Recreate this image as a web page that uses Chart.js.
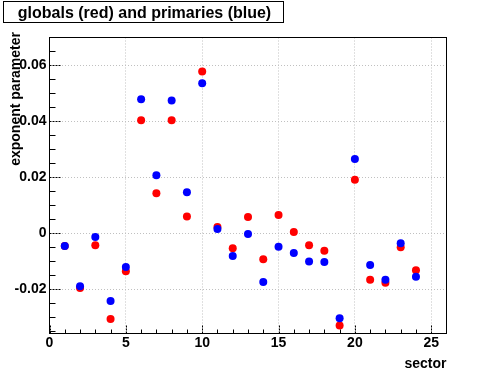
<!DOCTYPE html>
<html>
<head>
<meta charset="utf-8">
<script src="https://cdn.jsdelivr.net/npm/chart.js@4/dist/chart.umd.min.js"></script>
<style>
  body { margin: 0; background: #fff; }
  canvas { display: block; }
</style>
</head>
<body>
<canvas id="c" width="496" height="372"></canvas>
<script>
// values
const sectors = [1, 2, 3, 4, 5, 6, 7, 8, 9, 10, 11, 12, 13, 14, 15, 16, 17, 18, 19, 20, 21, 22, 23, 24];
const globals = [-0.0046, -0.0196, -0.0043, -0.0307, -0.0136, 0.0404, 0.0143, 0.0404, 0.0060, 0.0578,
  0.0022, -0.0054, 0.0058, -0.0093, 0.0065, 0.0004, -0.0043, -0.0063, -0.0330, 0.0191,
  -0.0167, -0.0177, -0.0050, -0.0133];
const primaries = [-0.0046, -0.0190, -0.0014, -0.0243, -0.0121, 0.0479, 0.0207, 0.0475, 0.0146, 0.0536,
  0.0015, -0.0082, -0.0003, -0.0175, -0.0049, -0.0071, -0.0101, -0.0103, -0.0304, 0.0265,
  -0.0114, -0.0167, -0.0036, -0.0156];
const xTicks = [0, 5, 10, 15, 20, 25];
const yTicks = [-0.02, 0, 0.02, 0.04, 0.06];

const FONT = "'Liberation Sans', Arial, sans-serif";

function points(ys) {
  return sectors.map((x, i) => ({ x: x, y: ys[i] }));
}

// ROOT-like frame, inward tick marks, title box and axis titles
const rootDecor = {
  id: "rootDecor",
  afterDraw(chart) {
    const ctx = chart.ctx;
    const a = chart.chartArea;
    const xs = chart.scales.x;
    const ys = chart.scales.y;
    ctx.save();
    ctx.strokeStyle = "#000";
    ctx.lineWidth = 1;

    // minor ticks
    ctx.beginPath();
    for (let i = 1; i <= 25; i++) {
      if (i % 5 === 0) continue;
      const px = Math.round(xs.getPixelForValue(i)) + 0.5;
      ctx.moveTo(px, a.bottom);
      ctx.lineTo(px, a.bottom - 4);
    }
    for (let k = -7; k <= 13; k++) {
      if (k % 4 === 0) continue;
      const py = Math.round(ys.getPixelForValue(k * 0.005)) + 0.5;
      if (py < a.top + 1 || py > a.bottom - 1) continue;
      ctx.moveTo(a.left, py);
      ctx.lineTo(a.left + 6, py);
    }
    ctx.stroke();

    // major ticks (dashed)
    ctx.setLineDash([2, 1]);
    ctx.beginPath();
    xTicks.forEach((v) => {
      const px = Math.round(xs.getPixelForValue(v)) + 0.5;
      ctx.moveTo(px, a.bottom);
      ctx.lineTo(px, a.bottom - 8);
    });
    yTicks.forEach((v) => {
      const py = Math.round(ys.getPixelForValue(v)) + 0.5;
      ctx.moveTo(a.left, py);
      ctx.lineTo(a.left + 12, py);
    });
    ctx.stroke();
    ctx.setLineDash([]);

    // frame
    ctx.strokeRect(a.left, a.top, a.right - a.left, a.bottom - a.top);

    // axis titles
    ctx.fillStyle = "#000";
    ctx.font = "bold 14px " + FONT;
    ctx.textAlign = "right";
    ctx.textBaseline = "alphabetic";
    ctx.fillText("sector", a.right, 368);
    ctx.save();
    ctx.translate(20, 32);
    ctx.rotate(-Math.PI / 2);
    ctx.fillText("exponent parameter", 0, 0);
    ctx.restore();

    // title box
    ctx.fillStyle = "#fff";
    ctx.fillRect(3.5, 1.5, 280, 21);
    ctx.strokeRect(3.5, 1.5, 280, 21);
    ctx.fillStyle = "#000";
    ctx.font = "bold 16px " + FONT;
    ctx.textAlign = "center";
    ctx.fillText("globals (red) and primaries (blue)", 144.5, 17.5);
    ctx.restore();
  },
};

new Chart(document.getElementById("c"), {
  type: "scatter",
  data: {
    datasets: [
      {
        label: "primaries",
        data: points(primaries),
        backgroundColor: "#0000ff",
        borderWidth: 0,
        pointRadius: 4,
      },
      {
        label: "globals",
        data: points(globals),
        backgroundColor: "#ff0000",
        borderWidth: 0,
        pointRadius: 4,
      },
    ],
  },
  options: {
    responsive: false,
    animation: false,
    layout: { padding: { left: 0, top: 37.5, right: 49.5, bottom: 0 } },
    plugins: { legend: { display: false }, tooltip: { enabled: false } },
    scales: {
      x: {
        type: "linear",
        min: 0,
        max: 26,
        afterFit: (s) => { s.height = 38.5; },
        afterBuildTicks: (s) => { s.ticks = xTicks.map((v) => ({ value: v })); },
        grid: { color: "#c0c0c0", drawTicks: false },
        border: { display: false, dash: [1, 2] },
        ticks: { color: "#000", padding: 1, maxRotation: 0, font: { family: FONT, size: 14, weight: "bold" } },
      },
      y: {
        type: "linear",
        min: -0.0359,
        max: 0.07,
        afterFit: (s) => { s.width = 49.5; },
        afterBuildTicks: (s) => { s.ticks = yTicks.map((v) => ({ value: v })); },
        grid: { color: "#c0c0c0", drawTicks: false },
        border: { display: false, dash: [1, 2] },
        ticks: {
          color: "#000",
          padding: 3,
          font: { family: FONT, size: 14, weight: "bold" },
          callback: (v) => (v === 0 ? "0" : v.toFixed(2)),
        },
      },
    },
  },
  plugins: [rootDecor],
});
</script>
</body>
</html>
